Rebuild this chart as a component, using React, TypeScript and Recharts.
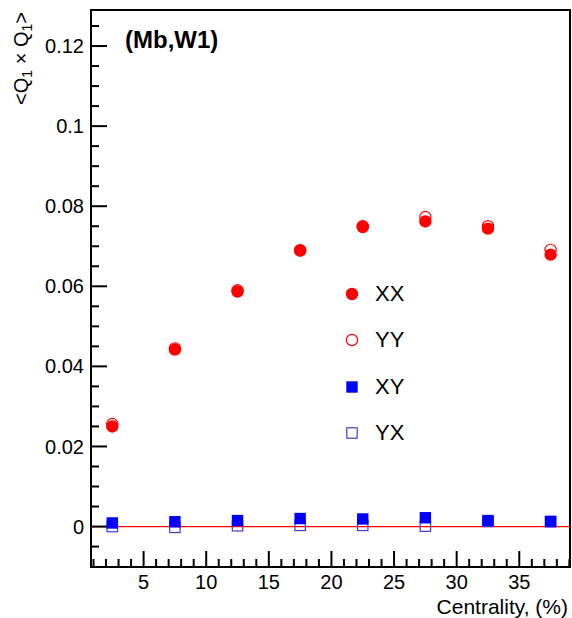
import React from "react";
import {
  ScatterChart,
  Scatter,
  XAxis,
  YAxis,
  ReferenceLine,
  ReferenceArea,
  Legend,
  Customized,
} from "recharts";

// centrality bins (%)
const centrality = [2.5, 7.5, 12.5, 17.5, 22.5, 27.5, 32.5, 37.5];

// <Q1 x Q1> correlations
const xxValues = [0.025, 0.0442, 0.0587, 0.0689, 0.0748, 0.0762, 0.0744, 0.0679];
const yyValues = [0.0256, 0.0445, 0.059, 0.069, 0.075, 0.0773, 0.075, 0.0691];
const xyValues = [0.0009, 0.0012, 0.0015, 0.002, 0.0019, 0.0022, 0.0015, 0.0013];
const yxValues = [0.0, -0.0002, 0.0002, 0.0003, 0.0003, 0.0001, 0.0013, 0.0012];

// axis ticks
const xMajorTicks = [5, 10, 15, 20, 25, 30, 35];
const xAllTicks = [
  1, 2, 3, 4, 5, 6, 7, 8, 9, 10, 11, 12, 13, 14, 15, 16, 17, 18, 19, 20, 21,
  22, 23, 24, 25, 26, 27, 28, 29, 30, 31, 32, 33, 34, 35, 36, 37, 38, 39,
];
const yMajorTicks = [0, 0.02, 0.04, 0.06, 0.08, 0.1, 0.12];
const yAllTicks = [
  -0.005, 0, 0.005, 0.01, 0.015, 0.02, 0.025, 0.03, 0.035, 0.04, 0.045, 0.05,
  0.055, 0.06, 0.065, 0.07, 0.075, 0.08, 0.085, 0.09, 0.095, 0.1, 0.105, 0.11,
  0.115, 0.12, 0.125,
];

const X_DOMAIN: [number, number] = [0.8, 39.05];
const Y_DOMAIN: [number, number] = [-0.0101, 0.129];

const FONT = '"Liberation Sans", Arial, Helvetica, sans-serif';
const RED = "#ff0000";
const BLUE = "#0000ff";
const BLUE_OPEN = "#3c3ccf";

const toPoints = (values: number[]) =>
  centrality.map((c, i) => ({ x: c, y: values[i] }));

const isMajor = (v: number, majors: number[]) =>
  majors.some((m) => Math.abs(m - v) < 1e-9);

const X_TICK_MARGIN = 8;
const Y_TICK_MARGIN = 7;

// ticks point into the frame like in ROOT
const XTick = (props: any) => {
  const { x, y, payload } = props;
  const major = isMajor(payload.value, xMajorTicks);
  const axisY = y - X_TICK_MARGIN;
  return (
    <g>
      <line x1={x} x2={x} y1={axisY} y2={axisY - (major ? 16 : 8)} stroke="#000" strokeWidth={2} />
      {major && (
        <text x={x} y={y} dy="0.71em" textAnchor="middle" fontSize={20} fontFamily={FONT} fill="#000">
          {payload.value}
        </text>
      )}
    </g>
  );
};

const YTick = (props: any) => {
  const { x, y, payload } = props;
  const major = isMajor(payload.value, yMajorTicks);
  const axisX = x + Y_TICK_MARGIN;
  return (
    <g>
      <line x1={axisX} x2={axisX + (major ? 16 : 8)} y1={y} y2={y} stroke="#000" strokeWidth={2} />
      {major && (
        <text x={x} y={y} dy="0.355em" textAnchor="end" fontSize={20} fontFamily={FONT} fill="#000">
          {String(payload.value)}
        </text>
      )}
    </g>
  );
};

// marker shapes
const FilledCircle = (p: any) => <circle cx={p.cx} cy={p.cy} r={6.2} fill={RED} />;
const OpenCircle = (p: any) => (
  <circle cx={p.cx} cy={p.cy} r={5.6} fill="none" stroke={RED} strokeWidth={1.2} />
);
const FilledSquare = (p: any) => (
  <rect x={p.cx - 5.7} y={p.cy - 5.7} width={11.4} height={11.4} fill={BLUE} />
);
const OpenSquare = (p: any) => (
  <rect x={p.cx - 5.2} y={p.cy - 5.2} width={10.4} height={10.4} fill="none" stroke={BLUE_OPEN} strokeWidth={1.2} />
);

const legendItems = [
  { name: "XX", marker: <circle cx={8} cy={8} r={6.2} fill={RED} /> },
  { name: "YY", marker: <circle cx={8} cy={8} r={5.6} fill="none" stroke={RED} strokeWidth={1.2} /> },
  { name: "XY", marker: <rect x={2.3} y={2.3} width={11.4} height={11.4} fill={BLUE} /> },
  { name: "YX", marker: <rect x={2.8} y={2.8} width={10.4} height={10.4} fill="none" stroke={BLUE_OPEN} strokeWidth={1.2} /> },
];

const LegendContent = () => (
  <div style={{ fontFamily: FONT }}>
    {legendItems.map((item) => (
      <div key={item.name} style={{ display: "flex", alignItems: "center", height: 46.3 }}>
        <svg width={16} height={16}>{item.marker}</svg>
        <span style={{ marginLeft: 15, fontSize: 22, color: "#000" }}>{item.name}</span>
      </div>
    ))}
  </div>
);

const Texts = () => (
  <g fontFamily={FONT} fill="#000">
    <text x={125} y={48} fontSize={24} fontWeight="bold">
      (Mb,W1)
    </text>
    <text x={568} y={614} fontSize={21} textAnchor="end">
      Centrality, (%)
    </text>
    <text x={28} y={12} fontSize={20} textAnchor="end" transform="rotate(-90, 28, 12)">
      {"<Q"}
      <tspan dy={4} fontSize={14}>1</tspan>
      <tspan dy={-4}>{" \u00d7 Q"}</tspan>
      <tspan dy={4} fontSize={14}>1</tspan>
      <tspan dy={-4}>{">"}</tspan>
    </text>
  </g>
);

export default function App() {
  return (
    <div style={{ position: "absolute", left: 0, top: 0, background: "#fff" }}>
      <ScatterChart
        width={572}
        height={618}
        margin={{ top: 10, right: 2, bottom: 21, left: 0 }}
      >
        <XAxis
          type="number"
          dataKey="x"
          domain={X_DOMAIN}
          allowDataOverflow
          ticks={xAllTicks}
          interval={0}
          tickSize={0}
          tickMargin={X_TICK_MARGIN}
          tickLine={false}
          tick={<XTick />}
          height={30}
          axisLine={{ stroke: "#000", strokeWidth: 2 }}
        />
        <YAxis
          type="number"
          dataKey="y"
          domain={Y_DOMAIN}
          allowDataOverflow
          ticks={yAllTicks}
          interval={0}
          tickSize={0}
          tickMargin={Y_TICK_MARGIN}
          tickLine={false}
          tick={<YTick />}
          width={91}
          axisLine={{ stroke: "#000", strokeWidth: 2 }}
        />
        <ReferenceArea
          x1={X_DOMAIN[0]}
          x2={X_DOMAIN[1]}
          y1={Y_DOMAIN[0]}
          y2={Y_DOMAIN[1]}
          fill="none"
          stroke="#000"
          strokeWidth={2}
          ifOverflow="visible"
        />
        <ReferenceLine y={0} stroke={RED} strokeWidth={1.3} />
        <Scatter name="YX" data={toPoints(yxValues)} shape={<OpenSquare />} isAnimationActive={false} />
        <Scatter name="XY" data={toPoints(xyValues)} shape={<FilledSquare />} isAnimationActive={false} />
        <Scatter name="YY" data={toPoints(yyValues)} shape={<OpenCircle />} isAnimationActive={false} />
        <Scatter name="XX" data={toPoints(xxValues)} shape={<FilledCircle />} isAnimationActive={false} />
        <Legend
          layout="vertical"
          align="center"
          verticalAlign="middle"
          content={<LegendContent />}
          wrapperStyle={{ position: "absolute", left: 344, top: 271, width: 100 }}
        />
        <Customized component={<Texts />} />
      </ScatterChart>
    </div>
  );
}
